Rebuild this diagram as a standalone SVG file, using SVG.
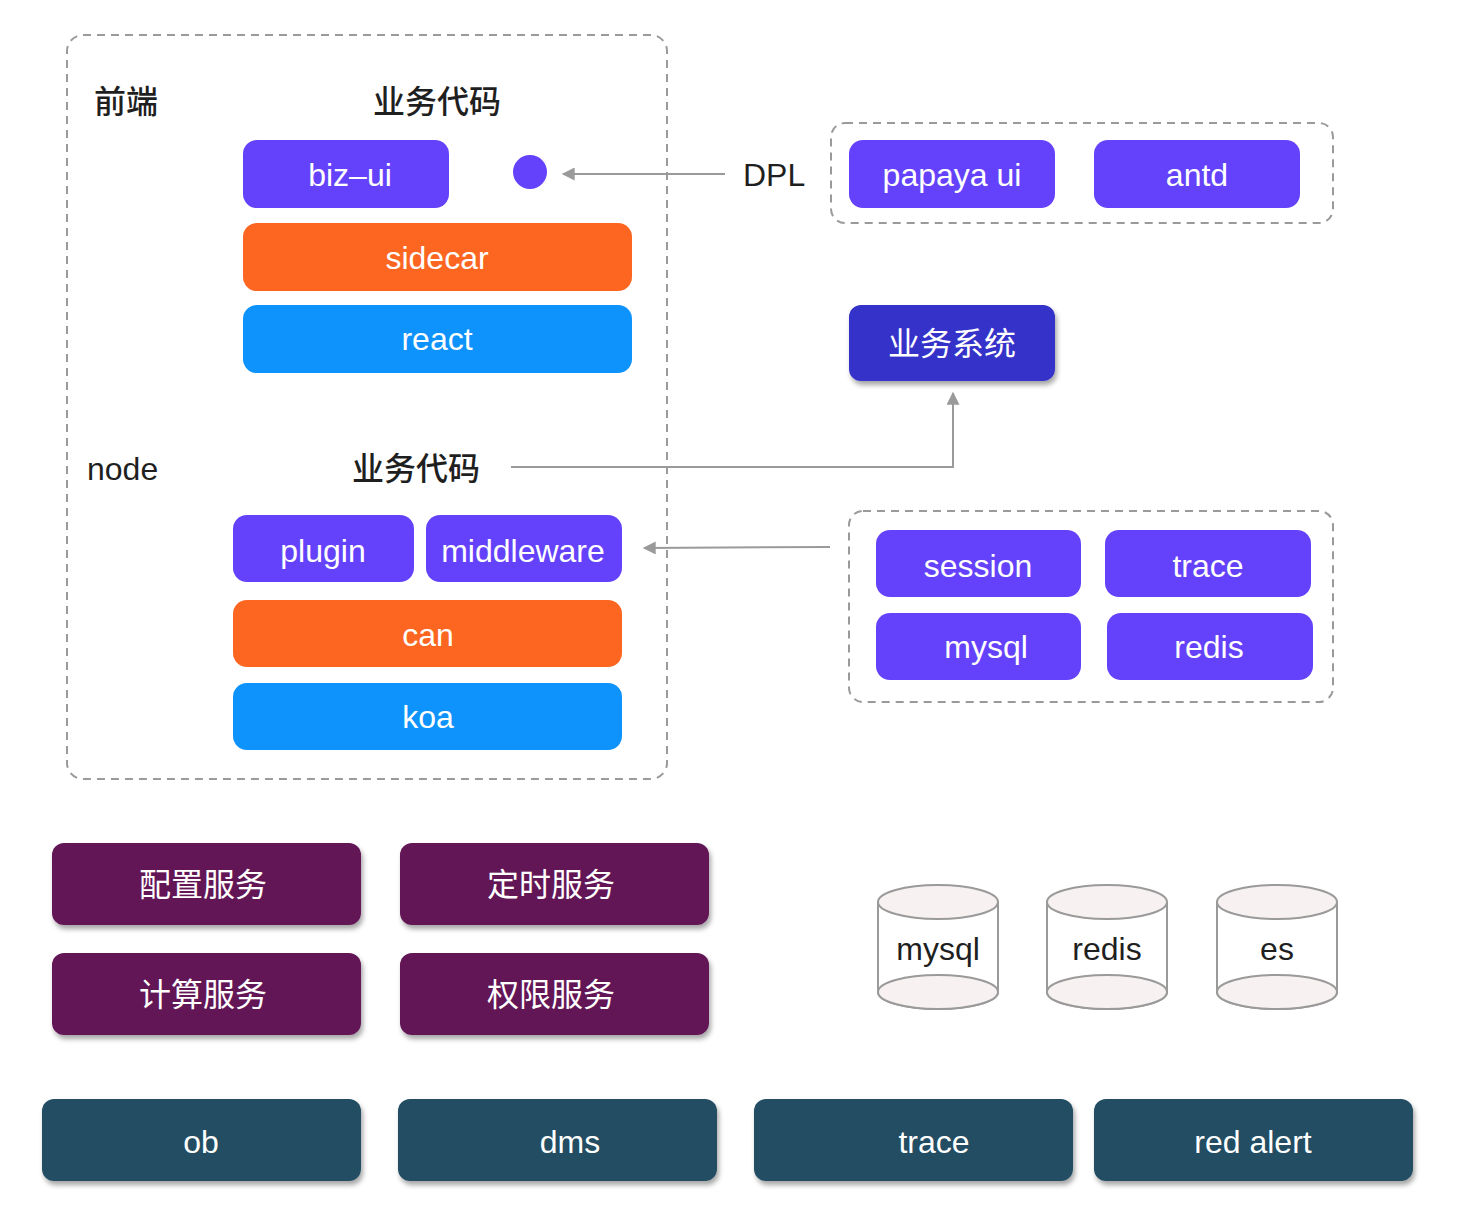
<svg xmlns="http://www.w3.org/2000/svg" width="1462" height="1230" viewBox="0 0 1462 1230">
<defs>
<style>
text{font-family:"Liberation Sans","Noto Sans CJK SC",sans-serif;font-size:32px;text-anchor:middle;}
.w{fill:#ffffff;}
.d{fill:#1f1f1f;}
.l{text-anchor:start;}
.cjk{font-weight:500;}
.grp{fill:none;stroke:#9a9a9a;stroke-width:2;stroke-dasharray:8 6;}
.blue{fill:#6442fb;}
.org{fill:#fc6621;}
.sky{fill:#0e93fc;}
.ind{fill:#3531ca;}
.plum{fill:#621656;}
.teal{fill:#234d62;}
.conn{fill:none;stroke:#9a9a9a;stroke-width:2;}
.cyl{fill:#ffffff;stroke:#9a9a9a;stroke-width:2;}
.cap{fill:#f7f1f1;stroke:#9a9a9a;stroke-width:2;}
</style>
<marker id="arr" viewBox="0 0 10 10" refX="9" refY="5" markerWidth="14" markerHeight="13" markerUnits="userSpaceOnUse" orient="auto">
<path d="M0,0 L10,5 L0,10 z" fill="#9a9a9a"/>
</marker>
<filter id="sh" x="-10%" y="-10%" width="130%" height="140%">
<feDropShadow dx="2" dy="4" stdDeviation="2.5" flood-color="#000" flood-opacity="0.35"/>
</filter>
</defs>

<g id="frontend-group">
<rect class="grp" x="67" y="35" width="600" height="744" rx="16"/>
<text class="d l cjk" x="94" y="113">前端</text>
<text class="d cjk" x="437" y="113">业务代码</text>
<text class="d l" x="87" y="480">node</text>
<text class="d cjk" x="416" y="480">业务代码</text>
</g>

<g id="biz-ui"><rect class="blue" x="243" y="140" width="206" height="68" rx="14"/><text class="w" x="350" y="186">biz–ui</text></g>
<g id="dot"><circle class="blue" cx="530" cy="172" r="17"/></g>
<g id="sidecar"><rect class="org" x="243" y="223" width="389" height="68" rx="14"/><text class="w" x="437" y="269">sidecar</text></g>
<g id="react"><rect class="sky" x="243" y="305" width="389" height="68" rx="14"/><text class="w" x="437" y="350">react</text></g>

<g id="dpl-label"><text class="d l" x="743" y="186">DPL</text></g>
<g id="dpl-group">
<rect class="grp" x="831" y="123" width="502" height="100" rx="14"/>
</g>
<g id="papaya-ui"><rect class="blue" x="849" y="140" width="206" height="68" rx="14"/><text class="w" x="952" y="186">papaya ui</text></g>
<g id="antd"><rect class="blue" x="1094" y="140" width="206" height="68" rx="14"/><text class="w" x="1197" y="186">antd</text></g>

<g id="biz-system"><rect class="ind" x="849" y="305" width="206" height="76" rx="12" filter="url(#sh)"/><text class="w" x="952" y="355">业务系统</text></g>

<g id="plugin"><rect class="blue" x="233" y="515" width="181" height="67" rx="14"/><text class="w" x="323" y="562">plugin</text></g>
<g id="middleware"><rect class="blue" x="426" y="515" width="196" height="67" rx="14"/><text class="w" x="523" y="562">middleware</text></g>
<g id="can"><rect class="org" x="233" y="600" width="389" height="67" rx="14"/><text class="w" x="428" y="646">can</text></g>
<g id="koa"><rect class="sky" x="233" y="683" width="389" height="67" rx="14"/><text class="w" x="428" y="728">koa</text></g>

<g id="node-services-group">
<rect class="grp" x="849" y="511" width="484" height="191" rx="14"/>
</g>
<g id="session"><rect class="blue" x="876" y="530" width="205" height="67" rx="14"/><text class="w" x="978" y="577">session</text></g>
<g id="trace-svc"><rect class="blue" x="1105" y="530" width="206" height="67" rx="14"/><text class="w" x="1208" y="577">trace</text></g>
<g id="mysql-svc"><rect class="blue" x="876" y="613" width="205" height="67" rx="14"/><text class="w" x="986" y="658">mysql</text></g>
<g id="redis-svc"><rect class="blue" x="1107" y="613" width="206" height="67" rx="14"/><text class="w" x="1209" y="658">redis</text></g>

<g id="config-service"><rect class="plum" x="52" y="843" width="309" height="82" rx="12" filter="url(#sh)"/><text class="w" x="203" y="896">配置服务</text></g>
<g id="timer-service"><rect class="plum" x="400" y="843" width="309" height="82" rx="12" filter="url(#sh)"/><text class="w" x="551" y="896">定时服务</text></g>
<g id="compute-service"><rect class="plum" x="52" y="953" width="309" height="82" rx="12" filter="url(#sh)"/><text class="w" x="203" y="1006">计算服务</text></g>
<g id="auth-service"><rect class="plum" x="400" y="953" width="309" height="82" rx="12" filter="url(#sh)"/><text class="w" x="551" y="1006">权限服务</text></g>

<g id="db-mysql">
<path class="cyl" d="M878,902 L878,992 A60,17 0 0 0 998,992 L998,902"/>
<ellipse class="cap" cx="938" cy="992" rx="60" ry="17"/>
<ellipse class="cap" cx="938" cy="902" rx="60" ry="17"/>
<text class="d" x="938" y="960">mysql</text>
</g>
<g id="db-redis">
<path class="cyl" d="M1047,902 L1047,992 A60,17 0 0 0 1167,992 L1167,902"/>
<ellipse class="cap" cx="1107" cy="992" rx="60" ry="17"/>
<ellipse class="cap" cx="1107" cy="902" rx="60" ry="17"/>
<text class="d" x="1107" y="960">redis</text>
</g>
<g id="db-es">
<path class="cyl" d="M1217,902 L1217,992 A60,17 0 0 0 1337,992 L1337,902"/>
<ellipse class="cap" cx="1277" cy="992" rx="60" ry="17"/>
<ellipse class="cap" cx="1277" cy="902" rx="60" ry="17"/>
<text class="d" x="1277" y="960">es</text>
</g>

<g id="ob"><rect class="teal" x="42" y="1099" width="319" height="82" rx="12" filter="url(#sh)"/><text class="w" x="201" y="1153">ob</text></g>
<g id="dms"><rect class="teal" x="398" y="1099" width="319" height="82" rx="12" filter="url(#sh)"/><text class="w" x="570" y="1153">dms</text></g>
<g id="trace-ops"><rect class="teal" x="754" y="1099" width="319" height="82" rx="12" filter="url(#sh)"/><text class="w" x="934" y="1153">trace</text></g>
<g id="red-alert"><rect class="teal" x="1094" y="1099" width="319" height="82" rx="12" filter="url(#sh)"/><text class="w" x="1253" y="1153">red alert</text></g>

<g id="connectors">
<path class="conn" d="M725,174 L563,174" marker-end="url(#arr)"/>
<path class="conn" d="M511,467 L953,467 L953,393" marker-end="url(#arr)"/>
<path class="conn" d="M830,547 L644,548" marker-end="url(#arr)"/>
</g>
</svg>
